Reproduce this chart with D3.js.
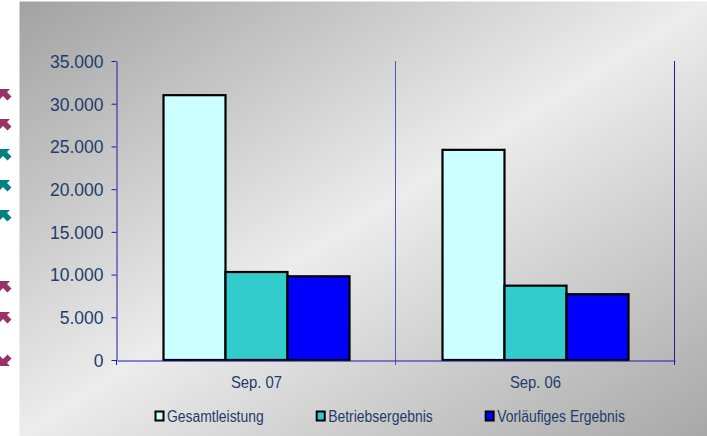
<!DOCTYPE html>
<html>
<head>
<meta charset="utf-8">
<script src="https://cdn.jsdelivr.net/npm/d3@7"></script>
<style>
  body { margin: 0; background: #fff; }
  text { font-family: "Liberation Sans", Arial, Helvetica, sans-serif; }
</style>
</head>
<body>
<div id="chart"></div>
<script>
var width = 707;
var height = 436;

// data
var categories = ['Sep. 07', 'Sep. 06'];
var seriesNames = ['Gesamtleistung', 'Betriebsergebnis', 'Vorläufiges Ergebnis'];
var seriesColors = ['#ccffff', '#33cccc', '#0000ff'];
var gesamtleistung = [31000, 24600];
var betriebsergebnis = [10300, 8700];
var vorlaeufiges = [9800, 7700];
var yTicks = [0, 5000, 10000, 15000, 20000, 25000, 30000, 35000];

// decorative arrows in left margin: colour and direction
var arrowColors = ['#993366', '#993366', '#008080', '#008080', '#008080', '#993366', '#993366', '#993366'];
var arrowDown = [false, false, false, false, false, false, false, true];
var arrowRows = [95, 125, 155, 186, 216, 287, 318, 360];

var seriesValues = [gesamtleistung, betriebsergebnis, vorlaeufiges];

var plotLeft = 117;
var plotRight = 675;
var plotTop = 61;
var plotBottom = 360;

var svg = d3.select('#chart')
	.append('svg')
	.attr('width', width)
	.attr('height', height);

var defs = svg.append('defs');
var grad = defs.append('linearGradient')
	.attr('id', 'bg')
	.attr('x1', 0).attr('y1', 0)
	.attr('x2', 1).attr('y2', 1);
grad.append('stop').attr('offset', '0%').attr('stop-color', '#a2a2a2');
grad.append('stop').attr('offset', '50%').attr('stop-color', '#ececec');
grad.append('stop').attr('offset', '100%').attr('stop-color', '#a8a8a8');

svg.append('rect')
	.attr('x', 19.5)
	.attr('y', 1.5)
	.attr('width', width - 19.5)
	.attr('height', height - 1.5)
	.attr('fill', 'url(#bg)');

// arrows
var arrowPath = 'M0,0 L10,0 L7,3 L11.5,7.5 L7.5,11.5 L3,7 L0,10 Z';
svg.append('g').selectAll('path')
	.data(arrowRows)
	.enter()
	.append('path')
	.attr('d', arrowPath)
	.attr('fill', function(d, i) { return arrowColors[i]; })
	.attr('transform', function(d, i) {
		return arrowDown[i]
			? 'translate(0,' + (d + 6) + ') scale(1,-1)'
			: 'translate(0,' + (d - 6) + ')';
	});

var xScale = d3.scaleBand()
	.domain(categories)
	.range([plotLeft, plotRight])
	.paddingInner(0)
	.paddingOuter(0);

var xSub = d3.scaleBand()
	.domain(seriesNames)
	.range([0, xScale.bandwidth()])
	.paddingInner(0)
	.paddingOuter(0.75);

var yScale = d3.scaleLinear()
	.domain([0, 35000])
	.range([plotBottom, plotTop]);

var axisColor = '#1c1ca0';
var textColor = '#1f3d6b';

// vertical separators
svg.append('g').selectAll('line')
	.data(categories)
	.enter()
	.append('line')
	.attr('x1', function(d) { return Math.round(xScale(d) + xScale.bandwidth()) - 0.5; })
	.attr('x2', function(d) { return Math.round(xScale(d) + xScale.bandwidth()) - 0.5; })
	.attr('y1', plotTop)
	.attr('y2', plotBottom + 5)
	.attr('stroke', function(d, i) { return i === 0 ? '#5555b0' : axisColor; })
	.attr('stroke-width', 1);

// bars
var groups = svg.append('g').selectAll('g')
	.data(seriesNames)
	.enter()
	.append('g')
	.attr('fill', function(d, i) { return seriesColors[i]; });

groups.selectAll('rect')
	.data(function(d, i) {
		return categories.map(function(c, j) {
			return { cat: c, series: d, value: seriesValues[i][j] };
		});
	})
	.enter()
	.append('rect')
	.attr('x', function(d) { return xScale(d.cat) + xSub(d.series); })
	.attr('y', function(d) { return yScale(d.value); })
	.attr('width', xSub.bandwidth())
	.attr('height', function(d) { return plotBottom - yScale(d.value); })
	.attr('stroke', '#000')
	.attr('stroke-width', 2.2);

// y axis
var yAxis = d3.axisLeft(yScale)
	.tickValues(yTicks)
	.tickSize(5)
	.tickSizeOuter(0)
	.tickFormat(function(d) { return d3.format(',')(d).replace(/,/g, '.'); });

var yG = svg.append('g')
	.attr('transform', 'translate(' + (plotLeft - 0.5) + ',0)')
	.call(yAxis);
yG.select('.domain').attr('stroke', axisColor);
yG.selectAll('.tick line').attr('stroke', axisColor);
yG.selectAll('.tick text')
	.attr('fill', textColor)
	.attr('font-size', 17.5)
	.attr('font-family', '"Liberation Sans", Arial, sans-serif')
	.attr('x', -13)
	.attr('dy', '0.36em');

// x axis
var xAxis = d3.axisBottom(xScale)
	.tickSize(0)
	.tickSizeOuter(0);
var xG = svg.append('g')
	.attr('transform', 'translate(0,' + (plotBottom + 0.5) + ')')
	.call(xAxis);
xG.select('.domain').attr('stroke', axisColor);
xG.selectAll('.tick text')
	.attr('fill', textColor)
	.attr('font-size', 16.5)
	.attr('font-family', '"Liberation Sans", Arial, sans-serif')
	.attr('y', 27.5)
	.attr('dy', 0)
	.each(function() {
		var w = this.getComputedTextLength();
		d3.select(this).attr('textLength', w * 0.9).attr('lengthAdjust', 'spacingAndGlyphs');
	});

svg.append('line')
	.attr('x1', plotLeft - 0.5).attr('x2', plotLeft - 0.5)
	.attr('y1', plotBottom).attr('y2', plotBottom + 5)
	.attr('stroke', axisColor);

// legend
var legend = svg.append('g');
var lx = 155.5;
seriesNames.forEach(function(name, i) {
	legend.append('rect')
		.attr('x', lx)
		.attr('y', 411.5)
		.attr('width', 8)
		.attr('height', 9)
		.attr('fill', seriesColors[i])
		.attr('stroke', '#000')
		.attr('stroke-width', 2);
	var t = legend.append('text')
		.attr('x', lx + 11.5)
		.attr('y', 422)
		.attr('fill', textColor)
		.attr('font-size', 16)
		.text(name);
	var w = t.node().getComputedTextLength() * 0.87;
	t.attr('textLength', w).attr('lengthAdjust', 'spacingAndGlyphs');
	lx = lx + 11.5 + w + 53;
});
</script>
</body>
</html>
